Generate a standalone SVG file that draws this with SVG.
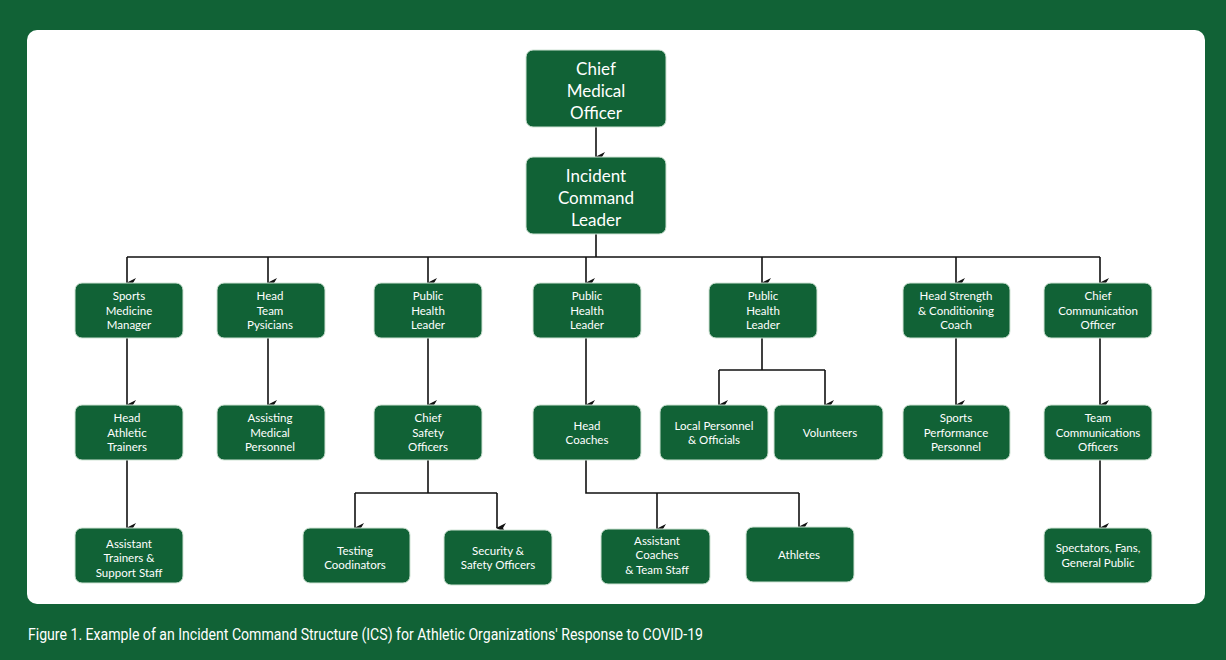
<svg xmlns="http://www.w3.org/2000/svg" width="1226" height="660" viewBox="0 0 1226 660">
<defs>
<marker id="ah" markerWidth="10" markerHeight="10" refX="5" refY="9" orient="auto" markerUnits="userSpaceOnUse" viewBox="0 0 10 10"><path d="M0,0 L5,10 L10,0 L5,3 Z" fill="#111"/></marker>
<style>
.n{fill:#116236;stroke:#cfe3d4;stroke-width:1}
.t{font-family:"Lato","Noto Sans",sans-serif;fill:#fff;font-size:11.5px;text-anchor:middle}
.b{font-size:17px}
.c{fill:none;stroke:#111;stroke-width:1.6}
</style>
</defs>
<rect width="1226" height="660" fill="#116236"/>
<rect x="27" y="30" width="1178" height="574" rx="10" fill="#fff"/>
<g id="connectors">
<path class="c" d="M596,127 V157" marker-end="url(#ah)"/>
<path class="c" d="M596,234 V257 M127,257 H1100"/>
<path class="c" d="M127,257 V283" marker-end="url(#ah)"/>
<path class="c" d="M268,257 V283" marker-end="url(#ah)"/>
<path class="c" d="M428,257 V283" marker-end="url(#ah)"/>
<path class="c" d="M586,257 V283" marker-end="url(#ah)"/>
<path class="c" d="M762,257 V283" marker-end="url(#ah)"/>
<path class="c" d="M956,257 V283" marker-end="url(#ah)"/>
<path class="c" d="M1100,257 V283" marker-end="url(#ah)"/>
<path class="c" d="M127,338 V405" marker-end="url(#ah)"/>
<path class="c" d="M268,338 V405" marker-end="url(#ah)"/>
<path class="c" d="M428,338 V405" marker-end="url(#ah)"/>
<path class="c" d="M586,338 V405" marker-end="url(#ah)"/>
<path class="c" d="M956,338 V405" marker-end="url(#ah)"/>
<path class="c" d="M1100,338 V405" marker-end="url(#ah)"/>
<path class="c" d="M762,338 V370 M719,370 H825"/>
<path class="c" d="M719,370 V405" marker-end="url(#ah)"/>
<path class="c" d="M825,370 V405" marker-end="url(#ah)"/>
<path class="c" d="M127,460 V528" marker-end="url(#ah)"/>
<path class="c" d="M1100,460 V528" marker-end="url(#ah)"/>
<path class="c" d="M428,460 V493 M355,493 H497"/>
<path class="c" d="M355,493 V528" marker-end="url(#ah)"/>
<path class="c" d="M497,493 V528" marker-end="url(#ah)"/>
<path class="c" d="M586,460 V493 H799"/>
<path class="c" d="M657,493 V529" marker-end="url(#ah)"/>
<path class="c" d="M799,493 V527" marker-end="url(#ah)"/>
</g>
<g id="cmo"><rect class="n" x="526" y="50" width="140" height="77" rx="7"/><text class="t b" x="596" y="75">Chief</text><text class="t b" x="596" y="97">Medical</text><text class="t b" x="596" y="119">Officer</text></g>
<g id="icl"><rect class="n" x="526" y="157" width="140" height="77" rx="7"/><text class="t b" x="596" y="182">Incident</text><text class="t b" x="596" y="204">Command</text><text class="t b" x="596" y="226">Leader</text></g>
<g id="smm"><rect class="n" x="75" y="283" width="108" height="55" rx="7"/><text class="t" x="129" y="300">Sports</text><text class="t" x="129" y="315">Medicine</text><text class="t" x="129" y="329">Manager</text></g>
<g id="htp"><rect class="n" x="217" y="283" width="108" height="55" rx="7"/><text class="t" x="270" y="300">Head</text><text class="t" x="270" y="315">Team</text><text class="t" x="270" y="329">Pysicians</text></g>
<g id="phl1"><rect class="n" x="374" y="283" width="108" height="55" rx="7"/><text class="t" x="428" y="300">Public</text><text class="t" x="428" y="315">Health</text><text class="t" x="428" y="329">Leader</text></g>
<g id="phl2"><rect class="n" x="533" y="283" width="108" height="55" rx="7"/><text class="t" x="587" y="300">Public</text><text class="t" x="587" y="315">Health</text><text class="t" x="587" y="329">Leader</text></g>
<g id="phl3"><rect class="n" x="709" y="283" width="108" height="55" rx="7"/><text class="t" x="763" y="300">Public</text><text class="t" x="763" y="315">Health</text><text class="t" x="763" y="329">Leader</text></g>
<g id="hsc"><rect class="n" x="903" y="283" width="107" height="55" rx="7"/><text class="t" x="956" y="300">Head Strength</text><text class="t" x="956" y="315">&amp; Conditioning</text><text class="t" x="956" y="329">Coach</text></g>
<g id="cco"><rect class="n" x="1044" y="283" width="108" height="55" rx="7"/><text class="t" x="1098" y="300">Chief</text><text class="t" x="1098" y="315">Communication</text><text class="t" x="1098" y="329">Officer</text></g>
<g id="hat"><rect class="n" x="75" y="405" width="108" height="55" rx="7"/><text class="t" x="127" y="422">Head</text><text class="t" x="127" y="437">Athletic</text><text class="t" x="127" y="451">Trainers</text></g>
<g id="amp"><rect class="n" x="217" y="405" width="108" height="55" rx="7"/><text class="t" x="270" y="422">Assisting</text><text class="t" x="270" y="437">Medical</text><text class="t" x="270" y="451">Personnel</text></g>
<g id="cso"><rect class="n" x="374" y="405" width="108" height="55" rx="7"/><text class="t" x="428" y="422">Chief</text><text class="t" x="428" y="437">Safety</text><text class="t" x="428" y="451">Officers</text></g>
<g id="hc"><rect class="n" x="533" y="405" width="108" height="55" rx="7"/><text class="t" x="587" y="430">Head</text><text class="t" x="587" y="444">Coaches</text></g>
<g id="lpo"><rect class="n" x="660" y="405" width="108" height="55" rx="7"/><text class="t" x="714" y="430">Local Personnel</text><text class="t" x="714" y="444">&amp; Officials</text></g>
<g id="vol"><rect class="n" x="774" y="405" width="109" height="55" rx="7"/><text class="t" x="830" y="437">Volunteers</text></g>
<g id="spp"><rect class="n" x="903" y="405" width="107" height="55" rx="7"/><text class="t" x="956" y="422">Sports</text><text class="t" x="956" y="437">Performance</text><text class="t" x="956" y="451">Personnel</text></g>
<g id="tco"><rect class="n" x="1044" y="405" width="108" height="55" rx="7"/><text class="t" x="1098" y="422">Team</text><text class="t" x="1098" y="437">Communications</text><text class="t" x="1098" y="451">Officers</text></g>
<g id="ats"><rect class="n" x="75" y="528" width="108" height="55" rx="7"/><text class="t" x="129" y="548">Assistant</text><text class="t" x="129" y="562">Trainers &amp;</text><text class="t" x="129" y="577">Support Staff</text></g>
<g id="tc"><rect class="n" x="303" y="528" width="107" height="55" rx="7"/><text class="t" x="355" y="555">Testing</text><text class="t" x="355" y="569">Coodinators</text></g>
<g id="sso"><rect class="n" x="444" y="530" width="108" height="55" rx="7"/><text class="t" x="498" y="555">Security &amp;</text><text class="t" x="498" y="569">Safety Officers</text></g>
<g id="act"><rect class="n" x="601" y="529" width="109" height="55" rx="7"/><text class="t" x="657" y="545">Assistant</text><text class="t" x="657" y="559">Coaches</text><text class="t" x="657" y="574">&amp; Team Staff</text></g>
<g id="ath"><rect class="n" x="746" y="527" width="108" height="55" rx="7"/><text class="t" x="799" y="559">Athletes</text></g>
<g id="sfg"><rect class="n" x="1044" y="528" width="108" height="55" rx="7"/><text class="t" x="1098" y="552">Spectators, Fans,</text><text class="t" x="1098" y="567">General Public</text></g>
<text x="28" y="640" font-family="Roboto,sans-serif" font-size="16" fill="#fff" textLength="675" lengthAdjust="spacingAndGlyphs">Figure 1. Example of an Incident Command Structure (ICS) for Athletic Organizations' Response to COVID-19</text>
</svg>
